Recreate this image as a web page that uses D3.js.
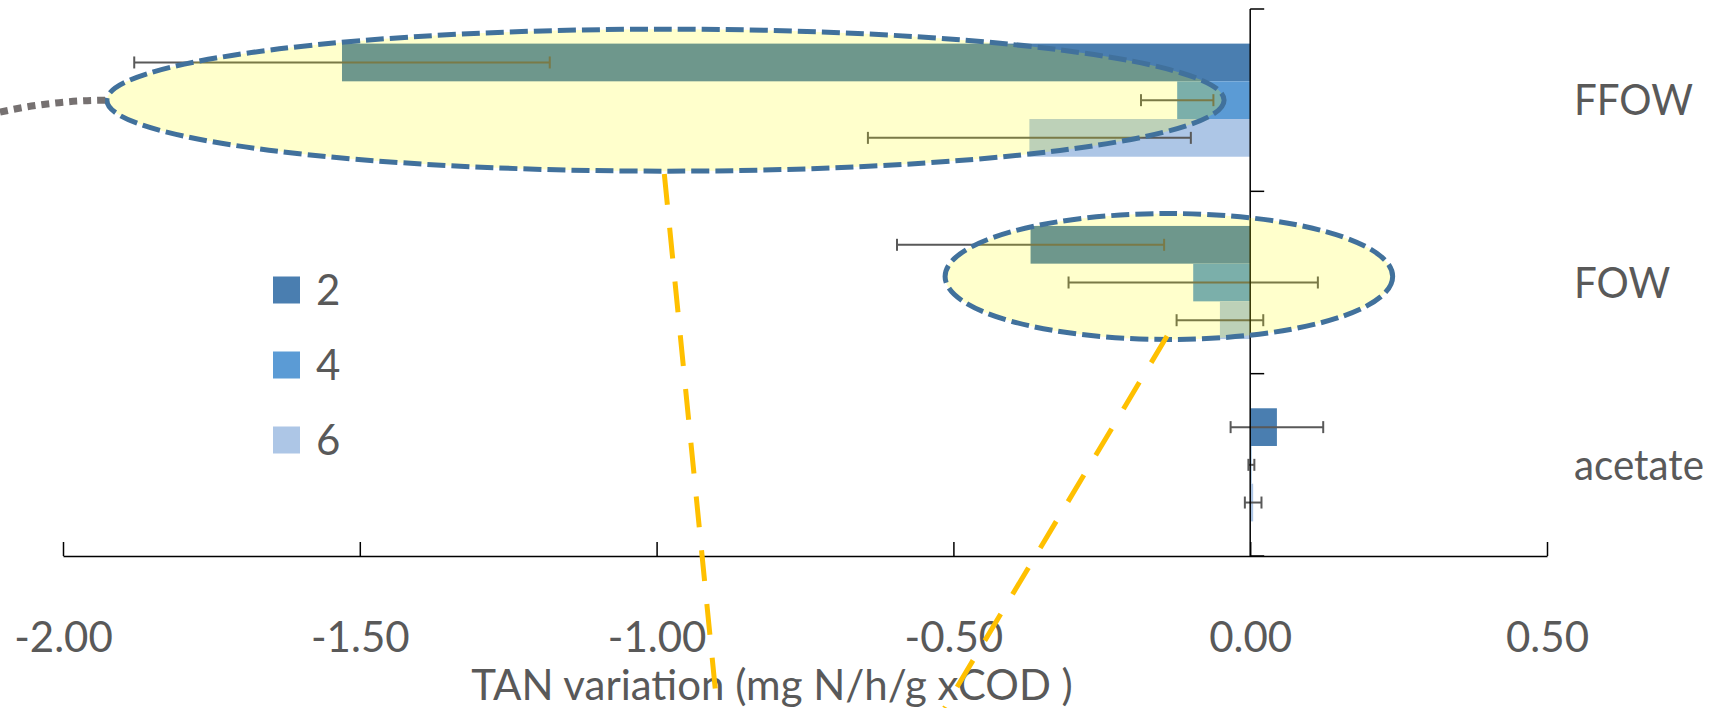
<!DOCTYPE html>
<meta charset="utf-8">
<style>
  body { margin: 0; background: #fff; }
  text { font-family: Lato, "Open Sans", sans-serif; fill: #595959; }
</style>
<svg width="1726" height="708"></svg>
<script src="https://d3js.org/d3.v7.min.js"></script>
<script>
  // values (mg N/h/g xCOD)
  var categories = ["FFOW", "FOW", "acetate"];
  var seriesNames = ["2", "4", "6"];
  var values2 = [-1.53, -0.37, 0.045];
  var values4 = [-0.123, -0.096, 0.002];
  var values6 = [-0.372, -0.051, 0.005];
  var errors2 = [0.35, 0.225, 0.078];
  var errors4 = [0.061, 0.21, 0.005];
  var errors6 = [0.272, 0.073, 0.014];
  var xTicks = [-2, -1.5, -1, -0.5, 0, 0.5];
  var colors = ["#4a7eb0", "#5b9bd5", "#adc6e6"];

  var svg = d3.select("svg");
  var fontSize = 42;

  var x = d3.scaleLinear().domain([-2, 0.5]).range([63, 1547]);
  var y0 = d3.scaleBand().domain(categories).range([9, 556]);
  var y1 = d3.scaleBand()
    .domain(seriesNames)
    .range([0, y0.bandwidth()])
    .paddingInner(0)
    .paddingOuter(0.918);
  var z = d3.scaleOrdinal().domain(seriesNames).range(colors);

  // rows: one per category & series
  var vals = [values2, values4, values6];
  var errs = [errors2, errors4, errors6];
  var rows = [];
  categories.forEach(function(c, i) {
    seriesNames.forEach(function(s, j) {
      rows.push({ cat: c, series: s, value: vals[j][i], err: errs[j][i] });
    });
  });

  // bars
  svg.append("g")
    .selectAll("rect")
    .data(rows)
    .enter()
    .append("rect")
    .attr("x", function(d) { return x(Math.min(0, d.value)); })
    .attr("y", function(d) { return y0(d.cat) + y1(d.series); })
    .attr("width", function(d) { return Math.abs(x(d.value) - x(0)); })
    .attr("height", y1.bandwidth())
    .attr("fill", function(d) { return z(d.series); });

  // error bars
  var eb = svg.append("g")
    .attr("stroke", "#595959")
    .attr("stroke-width", 2)
    .selectAll("g")
    .data(rows)
    .enter()
    .append("g")
    .attr("transform", function(d) {
      return "translate(0," + (y0(d.cat) + y1(d.series) + y1.bandwidth() / 2) + ")";
    });
  eb.append("line")
    .attr("x1", function(d) { return x(d.value - d.err); })
    .attr("x2", function(d) { return x(d.value + d.err); });
  eb.append("line")
    .attr("x1", function(d) { return x(d.value - d.err); })
    .attr("x2", function(d) { return x(d.value - d.err); })
    .attr("y1", -6).attr("y2", 6);
  eb.append("line")
    .attr("x1", function(d) { return x(d.value + d.err); })
    .attr("x2", function(d) { return x(d.value + d.err); })
    .attr("y1", -6).attr("y2", 6);

  // x axis, ticks pointing up, labels well below
  var fmt = d3.formatLocale({ decimal: ".", thousands: ",", grouping: [3], currency: ["", ""], minus: "-" }).format(".2f");
  var xAxis = svg.append("g")
    .attr("transform", "translate(0,556)")
    .call(d3.axisBottom(x).tickValues(xTicks).tickFormat(fmt)
      .tickSizeInner(-14).tickSizeOuter(0).tickPadding(66));
  xAxis.selectAll("path, line").attr("stroke", "#000").attr("stroke-width", 1.5);
  xAxis.selectAll("text")
    .attr("font-size", fontSize)
    .attr("fill", "#595959")
    .style("font-family", "Lato, 'Open Sans', sans-serif");

  // category axis at x = 0
  var yRange = y0.range();
  var catAxis = svg.append("g").attr("stroke", "#000").attr("stroke-width", 1.5);
  catAxis.append("line")
    .attr("x1", x(0)).attr("x2", x(0))
    .attr("y1", yRange[0]).attr("y2", yRange[1]);
  catAxis.selectAll(".tick")
    .data(categories.map(function(c) { return y0(c); }).concat(yRange[1]))
    .enter()
    .append("line")
    .attr("x1", x(0)).attr("x2", x(0) + 14)
    .attr("y1", function(d) { return d; })
    .attr("y2", function(d) { return d; });

  // category labels on the right
  svg.append("g")
    .selectAll("text")
    .data(categories)
    .enter()
    .append("text")
    .attr("transform", function(d) {
      return "translate(1574," + (y0(d) + y0.bandwidth() / 2) + ") scale(0.96,1)";
    })
    .attr("dy", "0.36em")
    .attr("font-size", fontSize)
    .text(function(d) { return d; });

  // legend
  var legend = svg.append("g")
    .selectAll("g")
    .data(seriesNames)
    .enter()
    .append("g")
    .attr("transform", function(d, i) { return "translate(273," + (290 + i * 75) + ")"; });
  legend.append("rect")
    .attr("y", -13.5)
    .attr("width", 27)
    .attr("height", 27)
    .attr("fill", z);
  legend.append("text")
    .attr("x", 43)
    .attr("dy", "0.36em")
    .attr("font-size", fontSize)
    .text(function(d) { return d; });

  // axis title
  svg.append("text")
    .attr("x", 772)
    .attr("y", 700)
    .attr("text-anchor", "middle")
    .attr("font-size", fontSize)
    .text("TAN variation (mg N/h/g xCOD )");

  // highlight ellipses (centre / radius in data units along x)
  var highlights = [
    { cat: "FFOW", cx: -0.985, rx: 0.941, dy: 0, ry: 71 },
    { cat: "FOW", cx: -0.137, rx: 0.377, dy: -6, ry: 63 }
  ];
  svg.append("g")
    .selectAll("ellipse")
    .data(highlights)
    .enter()
    .append("ellipse")
    .attr("cx", function(d) { return x(d.cx); })
    .attr("cy", function(d) { return y0(d.cat) + y0.bandwidth() / 2 + d.dy; })
    .attr("rx", function(d) { return x(d.rx) - x(0); })
    .attr("ry", function(d) { return d.ry; })
    .attr("fill", "rgba(255,255,0,0.2)")
    .attr("stroke", "#41719c")
    .attr("stroke-width", 5)
    .attr("stroke-dasharray", "18,6");

  // grey dotted lead-in to the big ellipse
  var tipX = x(highlights[0].cx - highlights[0].rx);
  var tipY = y0("FFOW") + y0.bandwidth() / 2;
  svg.append("path")
    .attr("d", "M0," + (tipY + 12) + "Q" + (tipX / 2) + "," + tipY + " " + tipX + "," + tipY)
    .attr("fill", "none")
    .attr("stroke", "#767171")
    .attr("stroke-width", 7)
    .attr("stroke-dasharray", "8,6");

  // yellow dashed leader lines from each ellipse downwards
  var leaders = [
    { from: -0.987, y1: 174, to: -0.898, y2: 708 },
    { from: -0.14, y1: 336, to: -0.515, y2: 708 }
  ];
  svg.append("g")
    .selectAll("line")
    .data(leaders)
    .enter()
    .append("line")
    .attr("x1", function(d) { return x(d.from); })
    .attr("y1", function(d) { return d.y1; })
    .attr("x2", function(d) { return x(d.to); })
    .attr("y2", function(d) { return d.y2; })
    .attr("stroke", "#ffc000")
    .attr("stroke-width", 5)
    .attr("stroke-dasharray", "31,23");
</script>
